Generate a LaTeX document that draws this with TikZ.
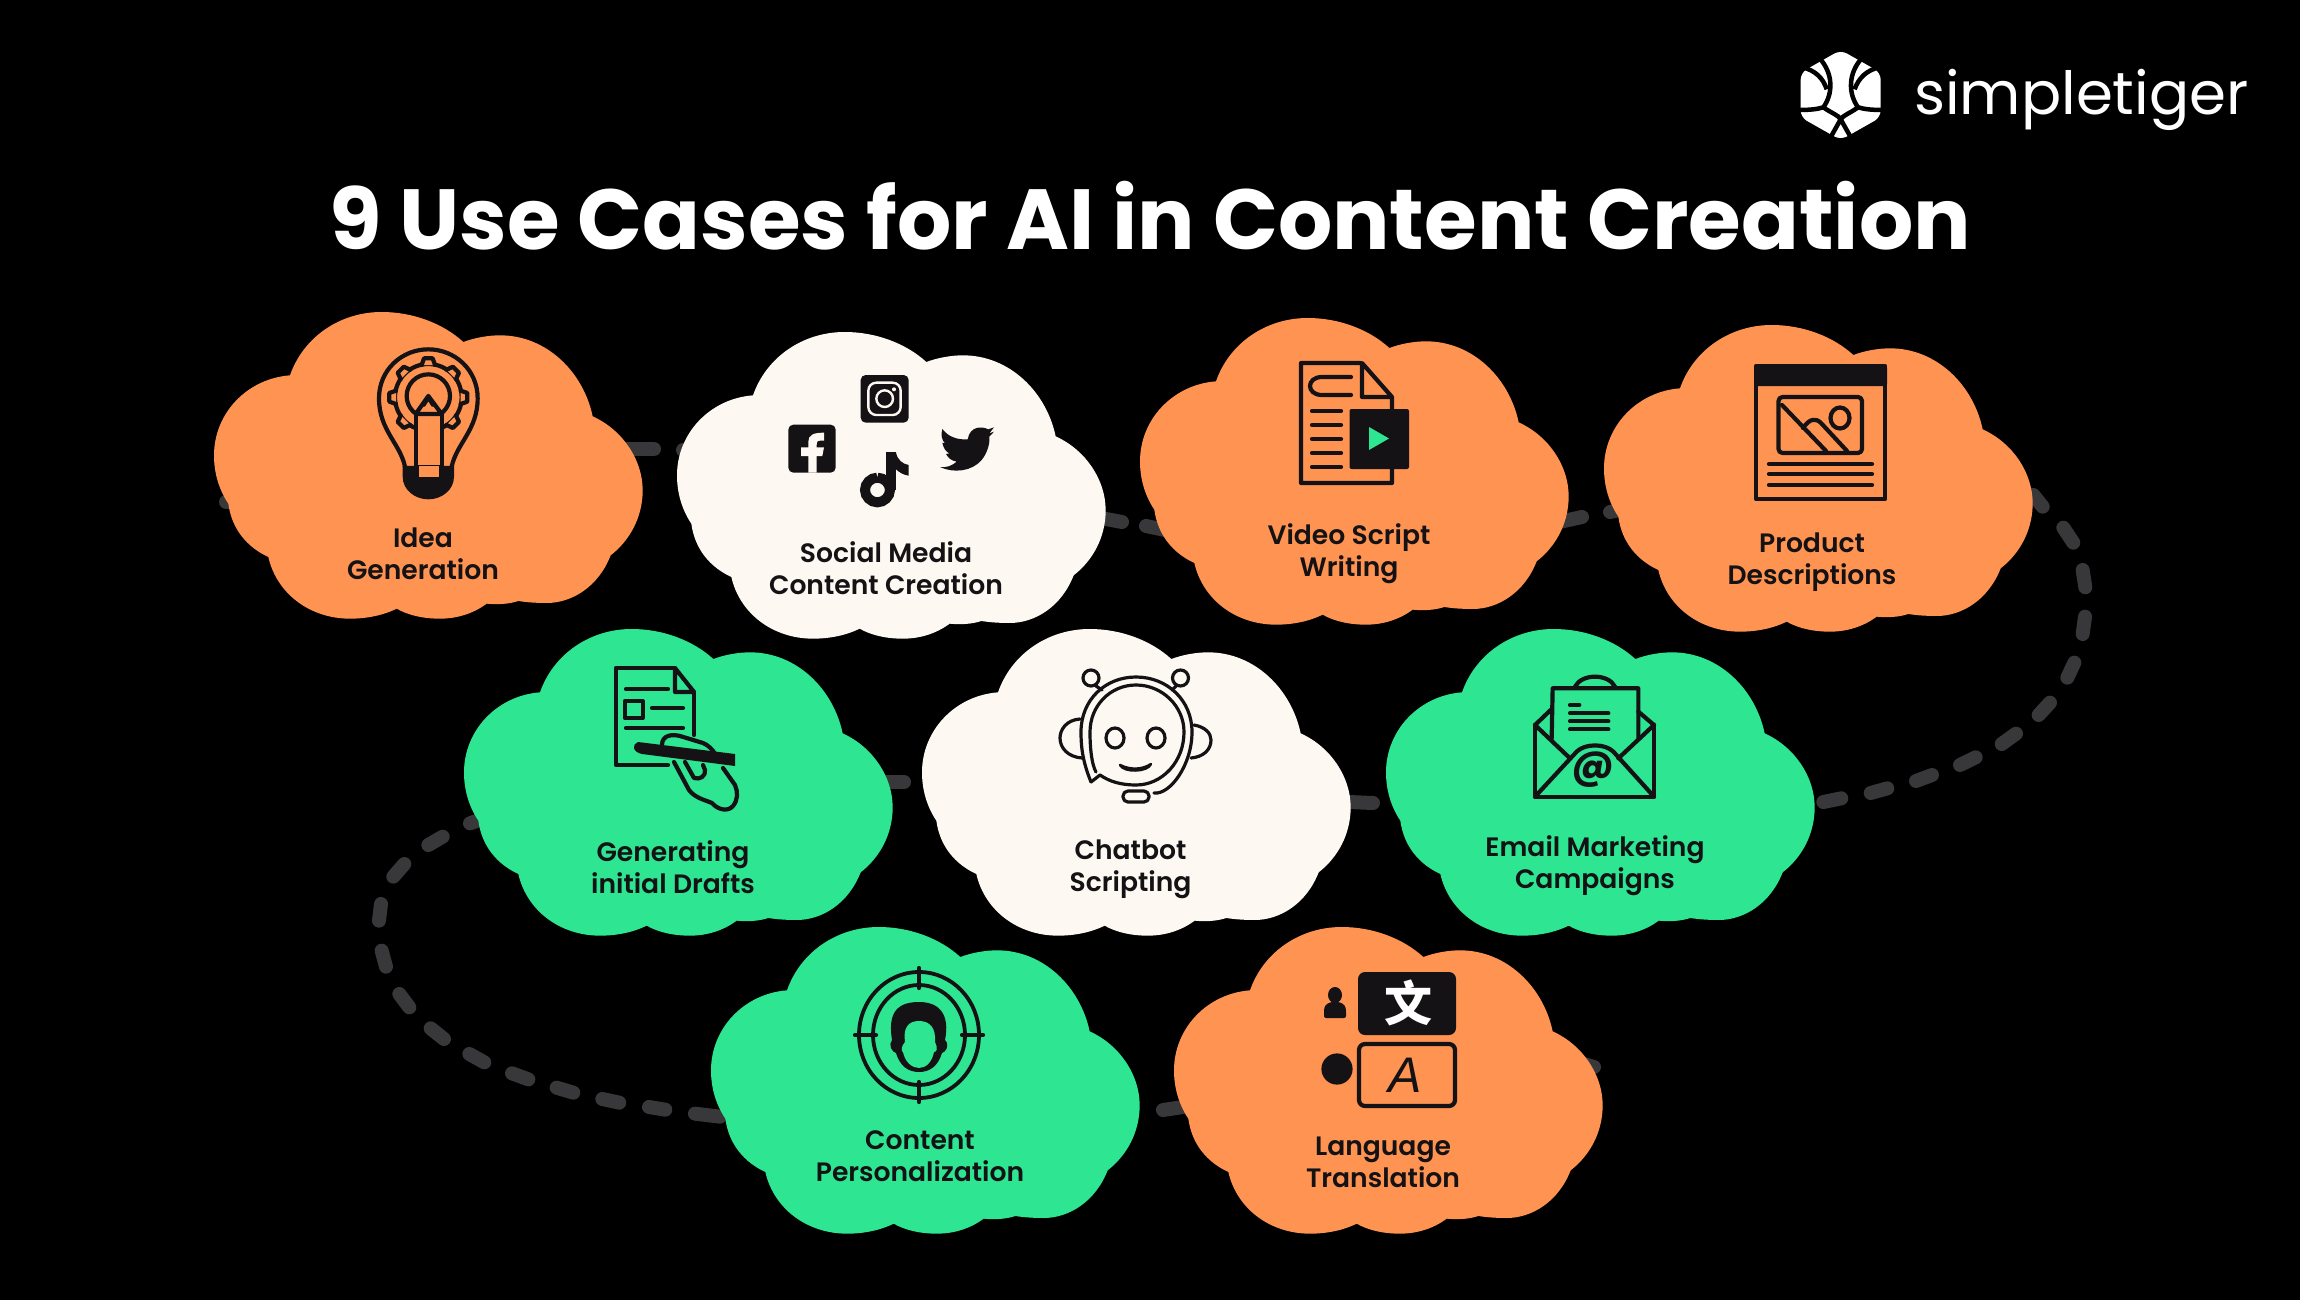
\documentclass[tikz,border=0pt]{standalone}
\usepackage{fontspec}
\setmainfont{Poppins}
\newfontfamily\popsb{Poppins SemiBold}
\newfontfamily\cjk{Noto Sans CJK SC}
\newfontfamily\liba{Liberation Sans}
\definecolor{bgk}{HTML}{000000}
\definecolor{ink}{HTML}{141214}
\definecolor{orng}{HTML}{FF9452}
\definecolor{grn}{HTML}{2EE592}
\definecolor{crm}{HTML}{FDF8F2}
\definecolor{dash}{HTML}{38383A}
\tikzset{
  lbl/.style={text=ink,font=\popsb\fontsize{26.6}{32}\selectfont,align=center,inner sep=0pt},
  ic/.style={draw=ink,line width=4.2pt,line join=round,line cap=round},
  stub/.style={draw=dash,line width=14pt,line cap=round},
}
\newcommand{\cloudat}[4]{%
  \coordinate (#1) at (#2,#3);
  \fill[#4,shift={(#2-14,#3-21.667)},x=0.33333pt,y=-0.33333pt]
   (270,255) .. controls (310,140) and (420,65) .. (545,65)
   .. controls (640,65) and (730,100) .. (790,155)
   .. controls (825,142) and (865,135) .. (900,135)
   .. controls (1040,135) and (1150,245) .. (1178,378)
   .. controls (1270,420) and (1328,510) .. (1328,600)
   .. controls (1328,680) and (1290,750) .. (1232,795)
   .. controls (1195,890) and (1115,938) .. (1040,938)
   .. controls (1010,938) and (980,936) .. (955,932)
   .. controls (925,942) and (890,943) .. (860,940)
   .. controls (820,970) and (770,985) .. (720,985)
   .. controls (670,985) and (625,975) .. (590,955)
   .. controls (550,975) and (500,985) .. (450,985)
   .. controls (330,985) and (230,910) .. (205,800)
   .. controls (140,770) and (95,715) .. (85,640)
   .. controls (58,600) and (42,550) .. (42,495)
   .. controls (42,370) and (140,265) .. (270,255) -- cycle;
}
\begin{document}
\begin{tikzpicture}[x=1pt,y=-1pt]
\useasboundingbox (0,0) rectangle (2300,1300);
\fill[bgk] (0,0) rectangle (2300,1300);

% connectors, behind the clouds
\coordinate (s1a) at (226,502); \coordinate (s1b) at (250,502);
\coordinate (s2a) at (625,449); \coordinate (s2b) at (654,449);
\coordinate (s3a) at (683,450); \coordinate (s3b) at (700,452);
\coordinate (s4a) at (1090,516); \coordinate (s4b) at (1122,522);
\coordinate (s5a) at (1146,526); \coordinate (s5b) at (1165,530);
\coordinate (s6a) at (1550,524); \coordinate (s6b) at (1582,517);
\coordinate (s7a) at (1610,512); \coordinate (s7b) at (1630,508);
\coordinate (s8a) at (1349,802); \coordinate (s8b) at (1373,803);
\coordinate (s9a) at (880,782); \coordinate (s9b) at (904,782);
\coordinate (s10a) at (1163,1110); \coordinate (s10b) at (1190,1106);
\coordinate (s11a) at (1570,1060); \coordinate (s11b) at (1594,1067);
\foreach \a/\b in {s1a/s1b,s2a/s2b,s3a/s3b,s4a/s4b,s5a/s5b,s6a/s6b,s7a/s7b,s8a/s8b,s9a/s9b,s10a/s10b,s11a/s11b}
  \draw[stub] (\a) -- (\b);
\begin{scope}[shift={(1800,480)},x=0.33333pt,y=-0.33333pt]
\foreach \xa/\ya/\xb/\yb [count=\i] in {700/45/728/80,790/143/820/188,848/270/856/322,855/410/848/462,823/548/802/593,750/668/716/705,648/761/605/792,527/832/480/855,396/885/348/903,262/925/212/939,124/955/70/966}{
  \coordinate (ra\i) at (\xa,\ya); \coordinate (rb\i) at (\xb,\yb);
  \draw[stub] (ra\i) -- (rb\i);
}
\end{scope}
\begin{scope}[shift={(360,800)},x=0.33333pt,y=-0.33333pt]
\foreach \xa/\ya/\xb/\yb [count=\i] in {330/70/370/56,248/110/205/135,133/192/100/230,63/312/57/362,65/452/78/500,118/582/148/622,212/685/252/717,328/762/373/787,456/820/505/838,590/863/640/878,727/897/778/908,867/921/916/929,1005/941/1080/950}{
  \coordinate (la\i) at (\xa,\ya); \coordinate (lb\i) at (\xb,\yb);
  \draw[stub] (la\i) -- (lb\i);
}
\end{scope}

% clouds
\cloudat{c1}{214}{312}{orng}
\cloudat{c2}{677}{332}{crm}
\cloudat{c3}{1140}{318}{orng}
\cloudat{c4}{1604}{325}{orng}
\cloudat{c5}{464}{629}{grn}
\cloudat{c6}{922}{629}{crm}
\cloudat{c7}{1386}{629}{grn}
\cloudat{c8}{711}{927}{grn}
\cloudat{c9}{1174}{927}{orng}

% labels
\node[lbl] (t1) at (423,554) {Idea\\Generation};
\node[lbl] (t2) at (886,568) {Social Media\\Content Creation};
\node[lbl] (t3) at (1349,554) {Video Script\\Writing};
\node[lbl] (t4) at (1812,562) {Product\\Descriptions};
\node[lbl] (t5) at (673,867) {Generating\\initial Drafts};
\node[lbl] (t6) at (1130.5,869) {Chatbot\\Scripting};
\node[lbl] (t7) at (1595,866) {Email Marketing\\Campaigns};
\node[lbl] (t8) at (920,1156.5) {Content\\Personalization};
\node[lbl] (t9) at (1383,1162.5) {Language\\Translation};

% title
\node[text=white,font=\fontsize{85.3}{85}\bfseries\selectfont,anchor=base,inner sep=0pt] (title) at (1150,250) {9 Use Cases for AI in Content Creation};

% logo
\node[text=white,font=\fontsize{59.5}{66}\selectfont,anchor=base west,inner sep=0pt] (logotext) at (1914,115) {simpletiger};
\begin{scope}[shift={(1760,30)},x=0.33333pt,y=-0.33333pt]
\fill[white,rounded corners=7pt] (242,60) -- (362,128) -- (362,262) -- (242,330) -- (122,262) -- (122,128) -- cycle;
\draw[black,line width=4.5pt]
 (178,84) .. controls (220,130) and (220,190) .. (190,232) .. controls (215,250) and (235,255) .. (242,268) .. controls (250,255) and (270,250) .. (294,232) .. controls (264,190) and (264,130) .. (306,84)
 (126,112) .. controls (165,120) and (190,145) .. (200,178)
 (358,112) .. controls (320,120) and (295,145) .. (284,178)
 (112,240) .. controls (150,240) and (170,238) .. (190,232)
 (372,240) .. controls (335,240) and (315,238) .. (294,232)
 (242,268) -- (210,325) (242,268) -- (274,325);
\end{scope}

% icon 1 bulb
\begin{scope}[shift={(200,290)},x=0.33333pt,y=-0.33333pt]
\draw[ic] (615,530) .. controls (600,460) and (537,420) .. (537,325) .. controls (537,240) and (605,178) .. (685,178) .. controls (765,178) and (833,240) .. (833,325) .. controls (833,420) and (770,460) .. (755,530);
\draw[ic] (685,322) circle[x radius=100,y radius=100];
\foreach \t in {0,45,90,135,180,225,270,315}
  \filldraw[ic,fill=orng,rotate around={\t:(685,322)}] (665,225) -- (672,205) -- (698,205) -- (705,225);
\draw[ic] (685,318) circle[x radius=65,y radius=65];
\filldraw[ic,fill=orng] (647,372) rectangle (725,530);
\filldraw[ic,fill=orng] (647,372) -- (685,318) -- (725,372) -- cycle;
\fill[ink] (685,312) -- (708,350) -- (662,350) -- cycle;
\fill[orng] (685,335) -- (696,352) -- (674,352) -- cycle;
\fill[ink] (608,528) -- (762,528) -- (762,560) .. controls (762,600) and (725,628) .. (685,628) .. controls (645,628) and (608,600) .. (608,560) -- cycle;
\fill[orng] (658,528) rectangle (716,560);
\end{scope}

% icon 2 social
\begin{scope}[shift={(670,320)},x=0.33333pt,y=-0.33333pt]
\fill[ink,rounded corners=5pt] (572,165) rectangle (716,308);
\draw[crm,line width=2.4pt,rounded corners=8pt] (595,188) rectangle (692,285);
\draw[crm,line width=2.4pt] (644,236) circle[x radius=25,y radius=25];
\fill[crm] (672,208) circle[x radius=6,y radius=6];
\fill[ink,rounded corners=5pt] (355,314) rectangle (497,458);
\fill[crm] (415,458) -- (415,408) -- (393,408) -- (393,382) -- (415,382) -- (415,365) .. controls (415,345) and (430,338) .. (462,338) -- (462,362) -- (450,362) .. controls (440,362) and (440,368) .. (440,375) -- (440,382) -- (462,382) -- (457,408) -- (440,408) -- (440,458) -- cycle;
\draw[ink,line width=10pt] (622,473) .. controls (642,473) and (660,490) .. (660,510) .. controls (660,530) and (642,547) .. (622,547) .. controls (602,547) and (585,530) .. (585,510) .. controls (585,490) and (602,473) .. (622,473);
\fill[ink] (648,397) -- (678,397) -- (678,510) -- (648,510) -- cycle;
\fill[ink] (678,397) .. controls (682,420) and (698,432) .. (716,435) -- (716,467) .. controls (702,465) and (688,458) .. (678,448) -- cycle;
\fill[ink] (955,328) .. controls (935,318) and (900,318) .. (893,358) .. controls (860,360) and (835,350) .. (817,327) .. controls (812,345) and (815,360) .. (825,370) -- (817,368) .. controls (820,385) and (828,395) .. (838,400) -- (828,402) .. controls (835,415) and (845,422) .. (860,425) .. controls (845,438) and (830,443) .. (810,441) .. controls (850,460) and (905,455) .. (935,420) .. controls (955,395) and (960,365) .. (958,350) -- (972,335) -- (958,340) -- (972,322) -- cycle;
\end{scope}

% icon 3 video doc
\draw[ic] (1360,363) -- (1301,363) -- (1301,483) -- (1392,483) -- (1392,397) -- (1362,397) -- (1362,363) -- (1392,397);
\draw[ic] (1351,377) -- (1322,377) .. controls (1306,377) and (1306,395) .. (1322,395) -- (1351,395);
\foreach \yy in {411,425,439,453,467} \draw[ic] (1312,\yy) -- (1341,\yy);
\fill[ink,rounded corners=2pt] (1349.5,409) rectangle (1409,469);
\fill[grn] (1369,427) -- (1389,438.5) -- (1369,450) -- cycle;

% icon 4 product
\draw[ic] (1756,366) rectangle (1885,499);
\fill[ink,rounded corners=2pt] (1754,366) rectangle (1887,386);
\draw[ic,rounded corners=4pt] (1778.5,397) rectangle (1862,453);
\draw[ic] (1840,418) circle[x radius=9.5,y radius=10.5];
\draw[ic] (1782,405) -- (1826,451);
\draw[ic,line join=round] (1803,428) .. controls (1810,418) and (1816,418) .. (1821,423) -- (1847,451);
\foreach \yy in {464,474,485} \draw[ic] (1769,\yy) -- (1872,\yy);

% icon 5 drafts
\draw[ic] (675,668) -- (616,668) -- (616,765) -- (668,765);
\draw[ic] (675,668) -- (675,692) -- (694,692) -- cycle;
\draw[ic] (694,692) -- (694,735);
\draw[ic] (626,689) -- (668,689) (652,708) -- (683,708) (626,728) -- (683,728);
\draw[ic] (625,701) rectangle (642.6,718);
\filldraw[ic,fill=grn] (662,745) .. controls (662,735) and (672,734) .. (680,736) -- (703,743) .. controls (708,745) and (712,749) .. (716,755);
\draw[ic] (674,762) -- (689,790) .. controls (695,798) and (705,800) .. (712,803) .. controls (718,810) and (728,812) .. (733,806) .. controls (738,800) and (738,792) .. (735,785) -- (723,768);
\draw[ic] (685,762) -- (694,778) .. controls (700,780) and (706,776) .. (705,770) -- (703,765);
\fill[ink] (638,742) -- (735,754) -- (735,766) -- (642,754) .. controls (632,752) and (632,744) .. (638,742) -- cycle;

% icon 6 chatbot
\draw[ic,line width=3.2pt] (1091,782) .. controls (1082,760) and (1081,745) .. (1081,732) .. controls (1081,700) and (1105,677) .. (1136,677) .. controls (1167,677) and (1192,700) .. (1192,732) .. controls (1192,765) and (1170,795) .. (1154,793);
\draw[ic,line width=3.2pt] (1091,782) -- (1100,775) .. controls (1110,782) and (1122,785) .. (1136,785) .. controls (1162,785) and (1184,762) .. (1184,732) .. controls (1184,706) and (1162,685) .. (1136,685) .. controls (1110,685) and (1090,706) .. (1090,732) .. controls (1090,750) and (1092,765) .. (1096,772);
\draw[ic,line width=3.2pt] (1080,719) .. controls (1066,720) and (1060,730) .. (1060,738) .. controls (1060,748) and (1068,757) .. (1082,758);
\draw[ic,line width=3.2pt] (1194,725) .. controls (1205,727) and (1211,733) .. (1211,740) .. controls (1211,750) and (1203,757) .. (1191,758);
\draw[ic,line width=3.2pt] (1091,678) circle[x radius=8,y radius=8];
\draw[ic,line width=3.2pt] (1180.5,678) circle[x radius=8,y radius=8];
\draw[ic,line width=3.2pt] (1096,686) -- (1102,690) (1176,686) -- (1172,690);
\draw[ic,line width=3.2pt] (1115,738) circle[x radius=9,y radius=10];
\draw[ic,line width=3.2pt] (1156,738) circle[x radius=9,y radius=10];
\filldraw[ic,line width=2.5pt,fill=crm] (1120,765) .. controls (1130,770) and (1142,770) .. (1151,764) .. controls (1148,772) and (1124,773) .. (1120,765) -- cycle;
\filldraw[ic,line width=3.2pt,fill=crm,rounded corners=5pt] (1123,791) rectangle (1149,802);

% icon 7 email
\begin{scope}[shift={(1500,650)},x=0.33333pt,y=-0.33333pt]
\draw[ic] (225,110) .. controls (245,70) and (325,70) .. (345,110);
\draw[ic] (155,265) -- (158,115) -- (415,115) -- (415,265);
\draw[ic] (105,225) -- (105,440) -- (462,440) -- (462,225);
\draw[ic] (105,225) -- (152,180) (462,225) -- (415,185);
\draw[ic] (105,225) -- (210,325) (462,225) -- (355,325);
\draw[ic] (105,440) -- (230,305) .. controls (255,280) and (315,280) .. (340,305) -- (462,440);
\draw[ic] (210,165) -- (238,165) (210,190) -- (325,190) (210,214) -- (325,214) (210,238) -- (325,238);
\node[text=ink,font=\bfseries\fontsize{40}{40}\selectfont,inner sep=0pt] (at) at (278,360) {@};
\end{scope}

% icon 8 target
\draw[ic,line width=3.8pt] (919,1035) circle[x radius=60,y radius=63];
\draw[ic,line width=3.8pt] (919,1035) circle[x radius=46,y radius=50];
\draw[ic,line width=4.2pt] (919,968) -- (919,988) (919,1082) -- (919,1102) (855,1035) -- (876,1035) (962,1035) -- (983,1035);
\fill[ink] (892,1040) .. controls (888,1015) and (895,1002) .. (919,1002) .. controls (940,1002) and (950,1015) .. (945,1040) .. controls (950,1045) and (946,1052) .. (942,1053) .. controls (938,1066) and (930,1072) .. (919,1072) .. controls (908,1072) and (900,1066) .. (896,1053) .. controls (892,1052) and (888,1045) .. (892,1040) -- cycle;
\fill[grn] (905,1042) .. controls (903,1028) and (908,1021) .. (919,1021) .. controls (930,1021) and (936,1028) .. (935,1042) .. controls (938,1048) and (937,1052) .. (934,1052) .. controls (932,1062) and (926,1068) .. (919,1068) .. controls (912,1068) and (905,1062) .. (903,1052) .. controls (901,1052) and (901,1046) .. (905,1042) -- cycle;

% icon 9 language
\fill[ink] (1335,995) circle[x radius=7,y radius=8];
\fill[ink,rounded corners=2pt] (1324,1018) -- (1324,1010) .. controls (1325,1004) and (1330,1002) .. (1335,1002) .. controls (1340,1002) and (1345,1004) .. (1346,1010) -- (1346,1018) -- cycle;
\fill[ink,rounded corners=7pt] (1358,972) rectangle (1456,1035);
\node[text=white,font=\cjk\bfseries\fontsize{48}{48}\selectfont,inner sep=0pt] (zh) at (1408,1003) {文};
\draw[ic,rounded corners=6pt] (1359,1044) rectangle (1455,1106);
\node[text=ink,font=\liba\itshape\fontsize{50}{50}\selectfont,inner sep=0pt] (lat) at (1405,1075) {A};
\fill[ink] (1337,1069) circle[x radius=15.6,y radius=15.6];
\end{tikzpicture}
\end{document}
